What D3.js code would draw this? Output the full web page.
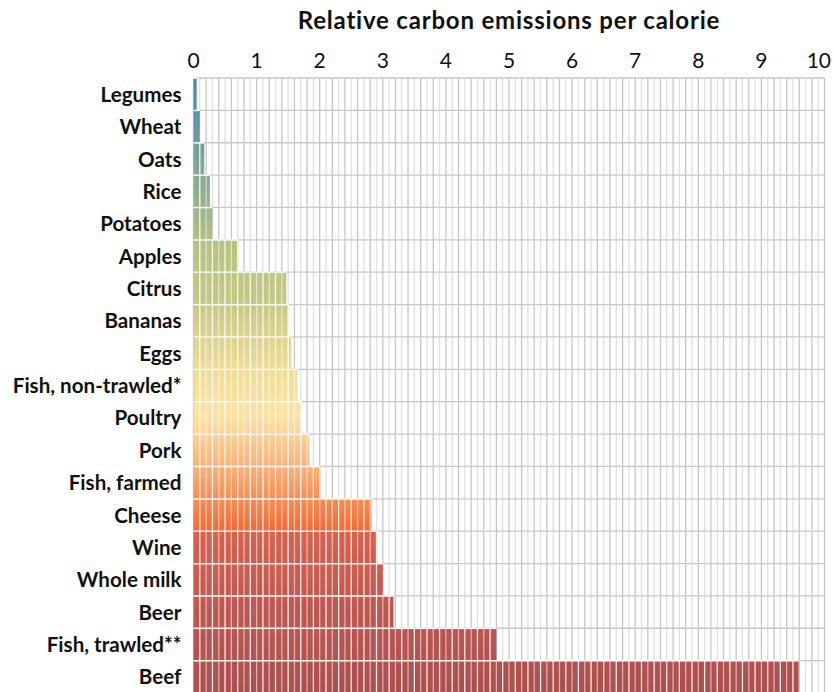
<!DOCTYPE html>
<html>
<head>
<meta charset="utf-8">
<script src="https://cdn.jsdelivr.net/npm/d3@7"></script>
<style>
  body { margin: 0; background: #fff; }
  text { font-family: Lato, "Noto Sans", sans-serif; }
</style>
</head>
<body>
<div id="chart"></div>
<script>
// Data
const foods = [
  "Legumes", "Wheat", "Oats", "Rice", "Potatoes", "Apples", "Citrus",
  "Bananas", "Eggs", "Fish, non-trawled*", "Poultry", "Pork",
  "Fish, farmed", "Cheese", "Wine", "Whole milk", "Beer",
  "Fish, trawled**", "Beef"
];
const emissions = [
  0.05, 0.1, 0.17, 0.26, 0.3, 0.71, 1.47,
  1.51, 1.55, 1.65, 1.71, 1.83,
  2.01, 2.82, 2.91, 3.0, 3.17,
  4.8, 9.59
];
const xTicks = [0, 1, 2, 3, 4, 5, 6, 7, 8, 9, 10];
const titleText = "Relative carbon emissions per calorie";

// Colour ramp down the chart
const gradientStops = [
  [0.00, "#4588b8"],
  [0.10, "#6f9ba0"],
  [0.28, "#b9c480"],
  [0.36, "#c4c886"],
  [0.47, "#efdc98"],
  [0.55, "#fee3a3"],
  [0.63, "#fbb27a"],
  [0.735, "#f36a34"],
  [0.737, "#d8624d"],
  [0.85, "#c15851"],
  [1.00, "#ab4f4f"]
];

// Dimensions
const width = 834;
const height = 692;
const marginTop = 78;
const marginRight = 9.5;
const marginBottom = -1;
const marginLeft = 193.5;

const x = d3.scaleLinear()
    .domain([0, 10])
    .range([marginLeft, width - marginRight]);

const y = d3.scaleBand()
    .domain(foods)
    .range([marginTop, height - marginBottom])
    .padding(0);

const svg = d3.select("#chart")
    .append("svg")
    .attr("width", width)
    .attr("height", height)
    .attr("viewBox", [0, 0, width, height]);

// gradient over the whole plot height
const grad = svg.append("defs").append("linearGradient")
    .attr("id", "barGrad")
    .attr("gradientUnits", "userSpaceOnUse")
    .attr("x1", 0).attr("x2", 0)
    .attr("y1", marginTop).attr("y2", height - marginBottom);
grad.selectAll("stop")
    .data(gradientStops)
    .join("stop")
    .attr("offset", d => d[0])
    .attr("stop-color", d => d[1]);

// Grid: vertical every 0.1
const gridSteps = d3.range(0, 101).map(i => i / 10);
svg.append("g")
    .selectAll("line")
    .data(gridSteps)
    .join("line")
    .attr("x1", d => x(d))
    .attr("x2", d => x(d))
    .attr("y1", marginTop)
    .attr("y2", height - marginBottom)
    .attr("stroke", (d, i) => i % 2 === 0 ? "#c6c6c6" : "#e0e0e0")
    .attr("stroke-width", 1.3);

// horizontal row lines
svg.append("g")
    .selectAll("line")
    .data(foods)
    .join("line")
    .attr("x1", x(0))
    .attr("x2", x(10))
    .attr("y1", d => y(d))
    .attr("y2", d => y(d))
    .attr("stroke", "#c8c8c8")
    .attr("stroke-width", 1.3);

// Bars
const rows = foods.map((f, i) => ({ food: f, value: emissions[i] }));

svg.append("g")
    .selectAll("rect")
    .data(rows)
    .join("rect")
    .attr("x", x(0))
    .attr("y", d => y(d.food) + 0.8)
    .attr("width", d => x(d.value) - x(0))
    .attr("height", y.bandwidth() - 0.8)
    .attr("fill", "url(#barGrad)");

// white segment lines over the bars
const barLines = svg.append("g");
rows.forEach(d => {
    const steps = gridSteps.filter(s => s > 0 && s < d.value);
    barLines.selectAll(null)
        .data(steps)
        .join("line")
        .attr("x1", s => x(s))
        .attr("x2", s => x(s))
        .attr("y1", y(d.food))
        .attr("y2", y(d.food) + y.bandwidth())
        .attr("stroke", "#fff")
        .attr("stroke-opacity", s => Math.round(s * 10) % 2 === 0 ? 0.55 : 0.9)
        .attr("stroke-width", 1.3);
    barLines.append("line")
        .attr("x1", x(0))
        .attr("x2", x(d.value))
        .attr("y1", y(d.food))
        .attr("y2", y(d.food))
        .attr("stroke", "#fff")
        .attr("stroke-opacity", 0.9)
        .attr("stroke-width", 1.3);
});

// Top axis labels (last one pulled in so it stays inside)
svg.append("g")
    .selectAll("text")
    .data(xTicks)
    .join("text")
    .attr("x", d => d === 10 ? width - 3 : x(d))
    .attr("y", 68)
    .attr("text-anchor", d => d === 10 ? "end" : "middle")
    .attr("font-size", 21)
    .attr("fill", "#111")
    .text(d => d);

// Category labels
svg.append("g")
    .selectAll("text")
    .data(foods)
    .join("text")
    .attr("x", x(0) - 12)
    .attr("y", d => y(d) + y.bandwidth() / 2)
    .attr("dy", "0.37em")
    .attr("text-anchor", "end")
    .attr("font-size", 20.6)
    .attr("font-weight", "bold")
    .attr("fill", "#111")
    .text(d => d);

// Title
svg.append("text")
    .attr("x", (x(0) + x(10)) / 2)
    .attr("y", 29)
    .attr("text-anchor", "middle")
    .attr("font-size", 24)
    .attr("font-weight", "bold")
    .attr("letter-spacing", 0.8)
    .attr("fill", "#111")
    .text(titleText);
</script>
</body>
</html>
